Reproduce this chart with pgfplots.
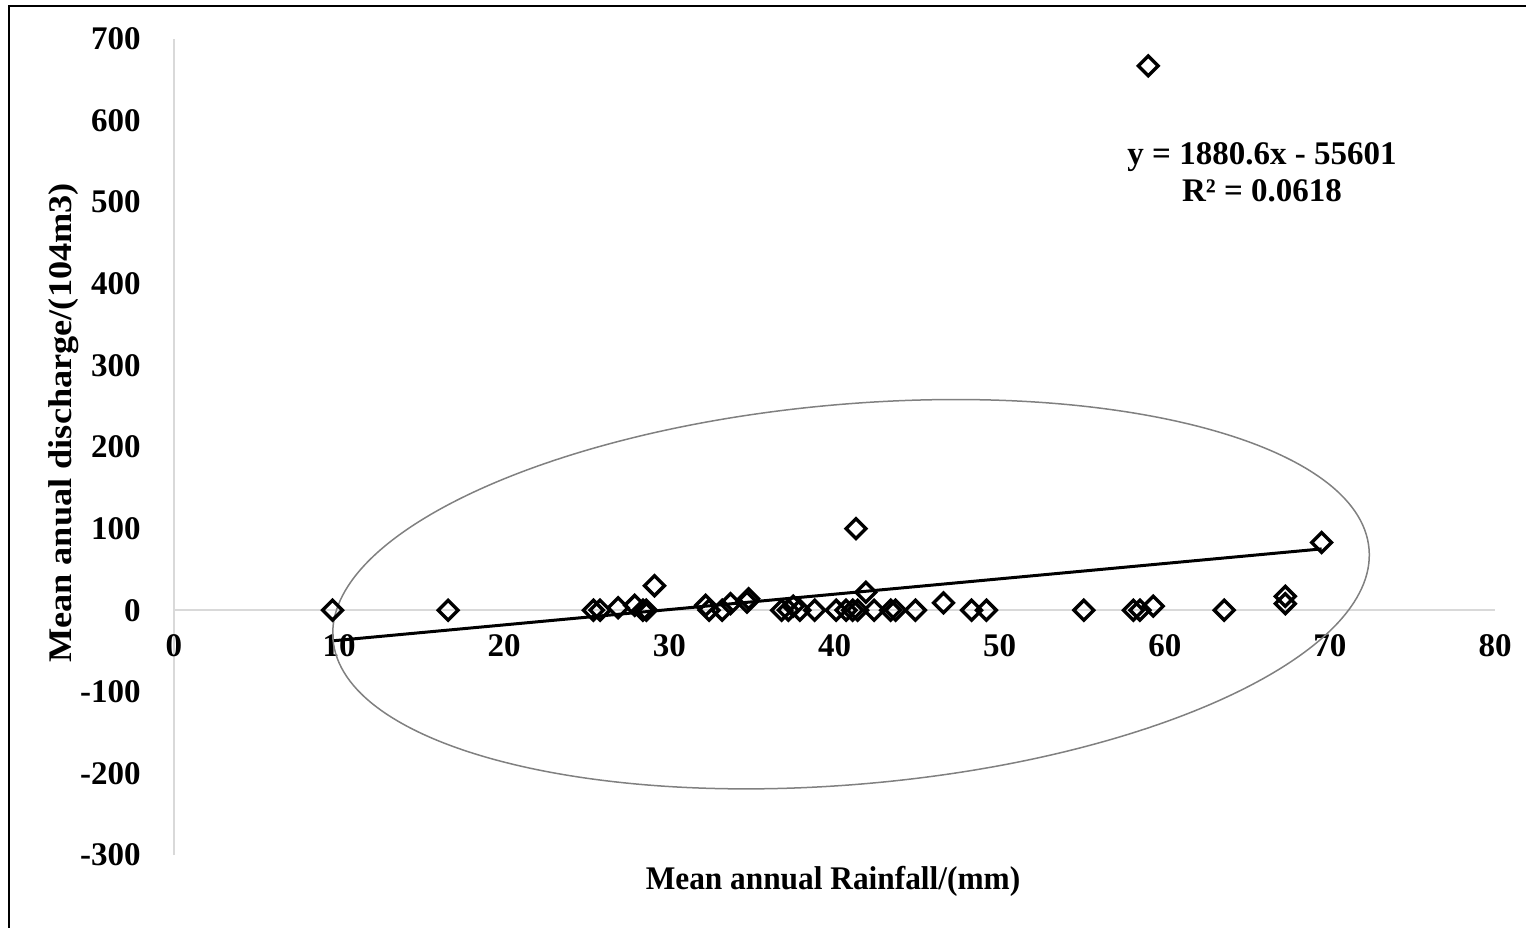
\documentclass[border=0pt]{standalone}
\usepackage{pgfplots}
\pgfplotsset{compat=1.18}
\usepackage{fontspec}
\setmainfont{Liberation Serif}
\definecolor{axgrey}{RGB}{217,217,217}
\definecolor{ellgrey}{RGB}{128,128,128}
\begin{document}
\begin{tikzpicture}
\fontsize{16.5}{19}\selectfont\bfseries
\useasboundingbox (-87pt,-36pt) rectangle (676pt,427.5pt);
\begin{axis}[
  at={(0pt,0pt)}, anchor=south west,
  width=660.5pt, height=408pt, scale only axis,
  xmin=0, xmax=80, ymin=-300, ymax=700,
  axis x line=middle, axis y line=left,
  axis line style={draw=axgrey, line width=0.75pt, -},
  major tick length=0pt,
  hide obscured x ticks=false, hide obscured y ticks=false,
  xtick={0,10,20,30,40,50,60,70,80},
  xticklabels={0,10,20,30,40,50,60,70,80},
  ytick={-300,-200,-100,0,100,200,300,400,500,600,700},
  yticklabels={-300,-200,-100,0,100,200,300,400,500,600,700},
  tick label style={font=\fontsize{16.5}{19}\selectfont\bfseries},
  xticklabel style={anchor=north, yshift=-6.7pt},
  yticklabel style={anchor=east, xshift=-11pt},
  clip=false,
]
\addplot[only marks, mark=square, mark size=3.5pt,
  mark options={rotate=45, draw=black, fill=none, line width=1.7pt}]
  coordinates {
  (9.6,0) (16.6,0) (25.4,0) (25.8,0) (26.9,3) (27.9,6) (28.4,0) (28.6,0)
  (29.1,30) (32.2,6) (32.4,0) (33.2,0) (33.7,8) (34.7,10) (34.8,14)
  (36.8,0) (37.2,0) (37.5,5) (37.9,0) (38.8,0) (40.1,0) (40.7,0) (41.1,0)
  (41.4,0) (41.3,100) (41.9,22) (42.4,0) (43.4,0) (43.7,0) (44.9,0)
  (46.6,9) (48.3,0) (49.2,0) (55.1,0) (58.1,0) (58.5,0) (59.3,5) (63.6,0)
  (67.3,17) (67.3,8) (69.5,83) (59.0,667)
  };
\addplot[black, line width=1.5pt, no marks] coordinates {(9.6,-37.55) (69.5,75.1)};
\draw[ellgrey, line width=0.75pt] (axis cs:41,19.6) ellipse [x radius=260pt, y radius=95pt, rotate=5];
\end{axis}
\draw[black, line width=1pt] (-82.5pt,-40pt) -- (-82.5pt,424.5pt) -- (680pt,424.5pt);
\node[anchor=center] at (329.5pt,-13pt) {\scalebox{0.95}[1]{Mean annual Rainfall/(mm)}};
\node[anchor=center, rotate=90] at (-55pt,216pt) {\scalebox{1.1}[1]{Mean anual discharge/(104m3)}};
\node[anchor=base] at (544pt,345pt) {y = 1880.6x - 55601};
\node[anchor=base] at (544pt,326.5pt) {R² = 0.0618};
\end{tikzpicture}
\end{document}
